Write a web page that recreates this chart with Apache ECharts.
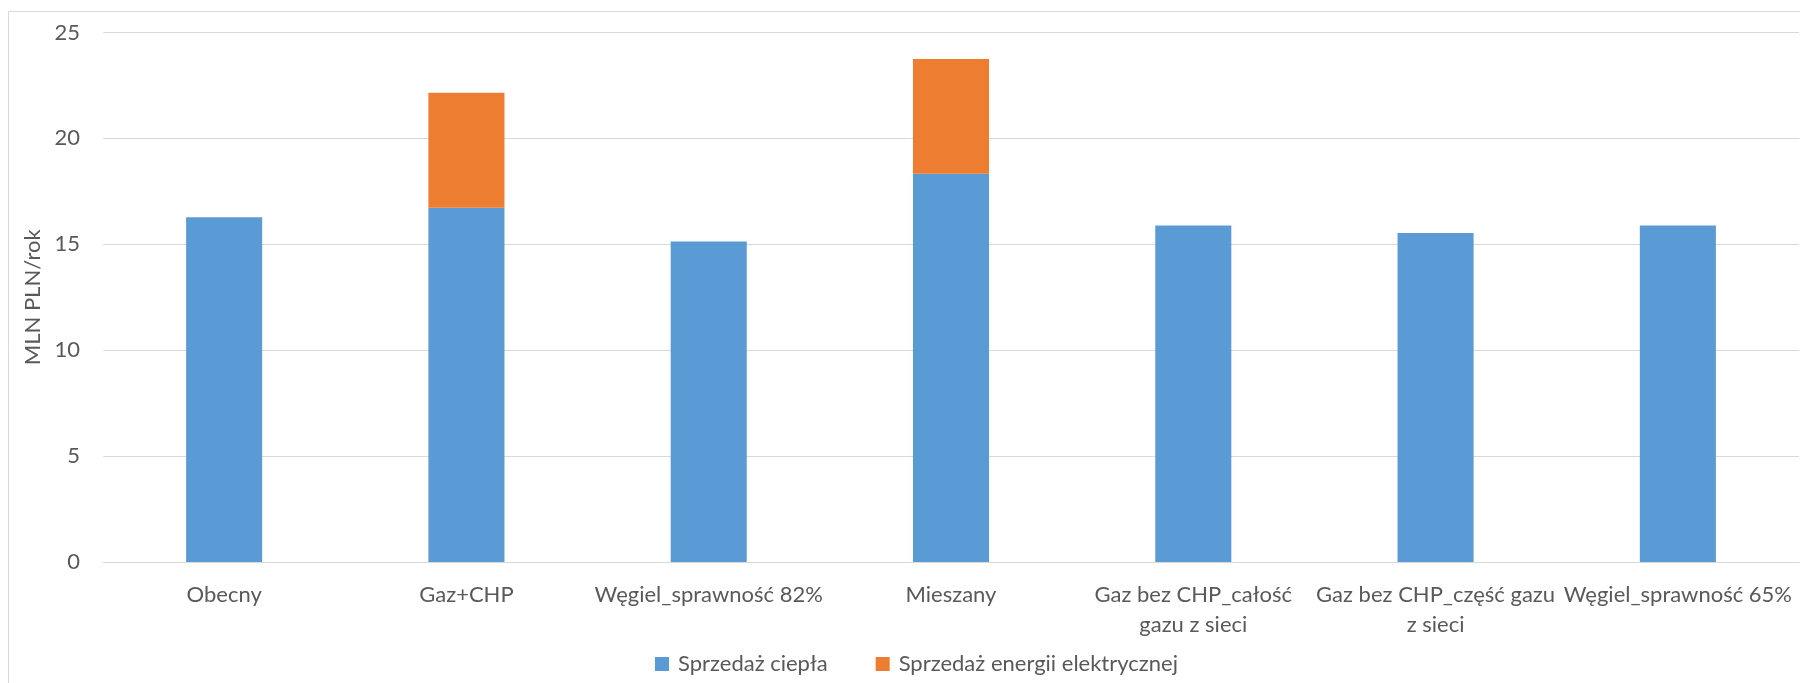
<!DOCTYPE html>
<html>
<head>
<meta charset="utf-8">
<script src="https://cdn.jsdelivr.net/npm/echarts@6/dist/echarts.min.js"></script>
<style>
  html, body { margin: 0; padding: 0; background: #ffffff; }
  #chart { width: 1800px; height: 683px; }
</style>
</head>
<body>
<div id="chart"></div>
<script>
// Scenario names (x axis)
const categories = [
  'Obecny',
  'Gaz+CHP',
  'Węgiel_sprawność 82%',
  'Mieszany',
  'Gaz bez CHP_całość\ngazu z sieci',
  'Gaz bez CHP_część gazu\nz sieci',
  'Węgiel_sprawność 65%'
];

// Annual revenue, MLN PLN/rok
const sprzedazCiepla = [16.28, 16.73, 15.13, 18.33, 15.89, 15.53, 15.89];
const sprzedazEnergii = [null, 5.42, null, 5.42, null, null, null];

const seriesNames = ['Sprzedaż ciepła', 'Sprzedaż energii elektrycznej'];
const yTicks = { min: 0, max: 25, interval: 5 };

const FONT = 'Lato';
const TEXT = '#595959';
const GRID = '#d9d9d9';

const chart = echarts.init(document.getElementById('chart'), null, { renderer: 'canvas' });

chart.setOption({
  animation: false,
  backgroundColor: '#ffffff',
  textStyle: { fontFamily: FONT, color: TEXT },
  graphic: [{
    type: 'rect',
    silent: true,
    z: -10,
    shape: { x: 8.5, y: 11.5, width: 2000, height: 1000 },
    style: { fill: null, stroke: GRID, lineWidth: 1 }
  }],
  grid: { left: 103, right: 1, top: 32.5, bottom: 121, containLabel: false },
  legend: {
    left: 650,
    top: 648,
    itemWidth: 14,
    itemHeight: 14,
    itemGap: 48,
    icon: 'rect',
    textStyle: { fontFamily: FONT, fontSize: 22, color: TEXT, padding: [0, 0, 0, 4] },
    data: seriesNames
  },
  xAxis: {
    type: 'category',
    data: categories,
    axisLine: { lineStyle: { color: GRID, width: 1 } },
    axisTick: { show: false },
    axisLabel: {
      interval: 0,
      color: TEXT,
      fontFamily: FONT,
      fontSize: 22,
      lineHeight: 30,
      margin: 18
    }
  },
  yAxis: {
    type: 'value',
    min: yTicks.min,
    max: yTicks.max,
    interval: yTicks.interval,
    name: 'MLN PLN/rok',
    nameLocation: 'middle',
    nameRotate: 90,
    nameGap: 54,
    nameTextStyle: { color: TEXT, fontFamily: FONT, fontSize: 22 },
    axisLine: { show: false },
    axisTick: { show: false },
    axisLabel: { color: TEXT, fontFamily: FONT, fontSize: 22, margin: 23 },
    splitLine: { lineStyle: { color: GRID, width: 1 } }
  },
  series: [
    {
      name: seriesNames[0],
      type: 'bar',
      stack: 'total',
      barWidth: '31.4%',
      itemStyle: { color: '#5B9BD5' },
      data: sprzedazCiepla
    },
    {
      name: seriesNames[1],
      type: 'bar',
      stack: 'total',
      barWidth: '31.4%',
      itemStyle: { color: '#ED7D31' },
      data: sprzedazEnergii
    }
  ]
});
</script>
</body>
</html>
